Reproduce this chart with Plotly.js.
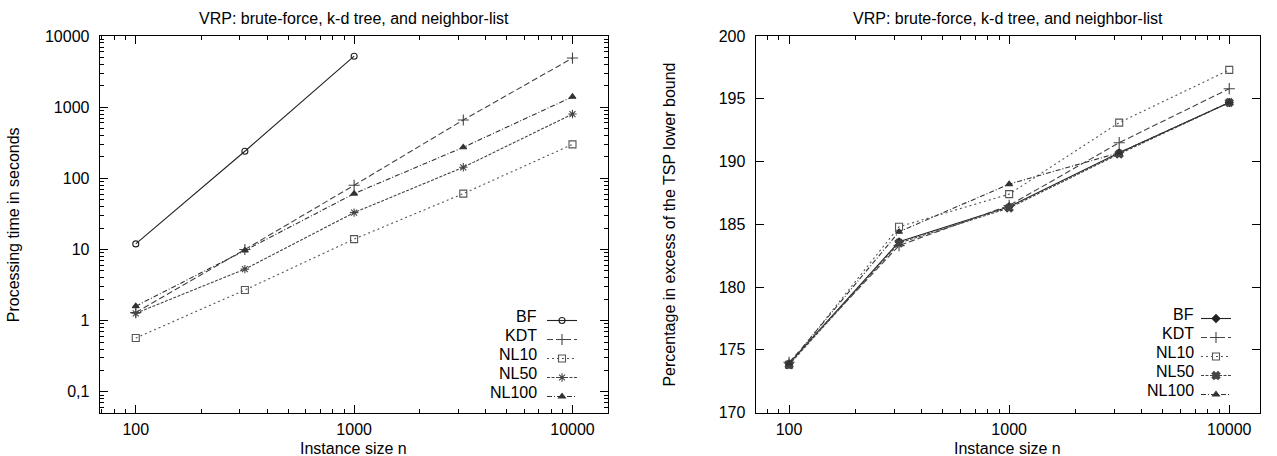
<!DOCTYPE html>
<html>
<head>
<meta charset="utf-8">
<script src="https://cdn.plot.ly/plotly-3.0.1.min.js"></script>
<style>html,body{margin:0;padding:0;background:#fff;}#chart{width:1277px;height:456px;}</style>
</head>
<body>
<div id="chart"></div>
<script>
// ---- data ----
const sizes = [100, 316, 1000, 3162, 10000];
const seriesNames = ['BF', 'KDT', 'NL10', 'NL50', 'NL100'];

// left panel: processing time in seconds
const timeBF    = [12, 240, 5200];
const timeKDT   = [1.3, 10, 80, 660, 4900];
const timeNL10  = [0.57, 2.7, 14, 61, 300];
const timeNL50  = [1.27, 5.3, 33, 143, 800];
const timeNL100 = [1.6, 9.7, 61, 273, 1400];

// right panel: percentage in excess of the TSP lower bound
const excessBF    = [173.9, 183.6, 186.4, 190.7, 194.7];
const excessKDT   = [174.0, 183.3, 186.5, 191.5, 195.8];
const excessNL10  = [173.8, 184.8, 187.4, 193.1, 197.3];
const excessNL50  = [173.8, 183.5, 186.3, 190.6, 194.7];
const excessNL100 = [173.9, 184.4, 188.2, 190.7, 194.7];

// tick labels
const sizeTickVals = [100, 1000, 10000];
const sizeTickText = ['100', '1000', '10000'];
const timeTickVals = [0.1, 1, 10, 100, 1000, 10000];
const timeTickText = ['0,1', '1', '10', '100', '1000', '10000'];
const excessTickVals = [170, 175, 180, 185, 190, 195, 200];
const excessTickText = ['170', '175', '180', '185', '190', '195', '200'];

const titleText = 'VRP: brute-force, k-d tree, and neighbor-list';
const xTitleText = 'Instance size n';
const yTitleLeft = 'Processing time in seconds';
const yTitleRight = 'Percentage in excess of the TSP lower bound';

// ---- helpers ----
const W = 1277, H = 456;
const px = v => v / W;
const py = v => 1 - v / H;
const FONT = 'Liberation Sans, Arial, Helvetica, sans-serif';
const FS = 16;

function minorLog(lo, hi) {
  const out = [];
  for (let e = -3; e <= 5; e++) {
    for (let m = 2; m <= 9; m++) {
      const v = m * Math.pow(10, e);
      if (v > lo && v < hi) out.push(v);
    }
  }
  return out;
}

const styles = {
  BF:    {dash: 'solid',           color: '#222', symL: 'circle-open',     symR: 'diamond',         size: 6},
  KDT:   {dash: '6px,3px',         color: '#444', symL: 'cross-thin-open', symR: 'cross-thin-open', size: 8},
  NL10:  {dash: '2px,3px',         color: '#555', symL: 'square-open',     symR: 'square-open',     size: 7},
  NL50:  {dash: '3px,1.5px',       color: '#444', symL: 'asterisk-open',   symR: 'x',               size: 7},
  NL100: {dash: '5px,2px,1px,2px', color: '#333', symL: 'triangle-up',     symR: 'triangle-up',     size: 6}
};

const leftData = {BF: timeBF, KDT: timeKDT, NL10: timeNL10, NL50: timeNL50, NL100: timeNL100};
const rightData = {BF: excessBF, KDT: excessKDT, NL10: excessNL10, NL50: excessNL50, NL100: excessNL100};

const traces = [];
seriesNames.forEach(name => {
  const s = styles[name];
  const yv = leftData[name];
  traces.push({
    type: 'scatter', mode: 'lines+markers', name: name,
    x: sizes.slice(0, yv.length), y: yv, xaxis: 'x', yaxis: 'y',
    line: {color: s.color, width: 1.1, dash: s.dash},
    marker: {symbol: s.symL, size: s.size, color: s.color, line: {color: s.color, width: 1.1}},
    legend: 'legend'
  });
});
seriesNames.forEach(name => {
  const s = styles[name];
  const yv = rightData[name];
  traces.push({
    type: 'scatter', mode: 'lines+markers', name: name,
    x: sizes.slice(0, yv.length), y: yv, xaxis: 'x2', yaxis: 'y2',
    line: {color: s.color, width: 1.1, dash: s.dash},
    marker: {symbol: s.symR, size: s.size, color: s.color, line: {color: s.color, width: 1.1}},
    legend: 'legend2'
  });
});

const yTop = 36, yBot = 412.5;
const Lx0 = 100.5, Lx1 = 611, Rx0 = 760, Rx1 = 1267;

const axisCommon = {
  showline: true, linecolor: '#000', linewidth: 1.3, mirror: 'ticks',
  ticks: 'inside', ticklen: 8, tickwidth: 1, tickcolor: '#000',
  showgrid: false, zeroline: false,
  tickfont: {family: FONT, size: FS, color: '#000'},
  fixedrange: true
};

const xRangeL = [1.836, 4.161];
const xRangeR = [1.849, 4.140];
const yRangeL = [-1.29, 4];

const layout = {
  width: W, height: H,
  margin: {l: 0, r: 0, t: 0, b: 0},
  paper_bgcolor: '#fff', plot_bgcolor: '#fff',
  font: {family: FONT, size: FS, color: '#000'},
  showlegend: true,
  xaxis: Object.assign({}, axisCommon, {
    type: 'log', range: xRangeL, domain: [px(Lx0), px(Lx1)], anchor: 'y',
    tickmode: 'array', tickvals: sizeTickVals, ticktext: sizeTickText, ticklabelstandoff: 2,
    minor: {tickmode: 'array', tickvals: minorLog(Math.pow(10, xRangeL[0]), Math.pow(10, xRangeL[1])), ticks: 'inside', ticklen: 4, tickcolor: '#000', showgrid: false}
  }),
  yaxis: Object.assign({}, axisCommon, {
    type: 'log', range: yRangeL, domain: [py(yBot), py(yTop)], anchor: 'x',
    tickmode: 'array', tickvals: timeTickVals, ticktext: timeTickText, ticklabelstandoff: 6,
    minor: {tickmode: 'array', tickvals: minorLog(Math.pow(10, yRangeL[0]), Math.pow(10, yRangeL[1])), ticks: 'inside', ticklen: 4, tickcolor: '#000', showgrid: false}
  }),
  xaxis2: Object.assign({}, axisCommon, {
    type: 'log', range: xRangeR, domain: [px(Rx0), px(Rx1)], anchor: 'y2',
    tickmode: 'array', tickvals: sizeTickVals, ticktext: sizeTickText, ticklabelstandoff: 2,
    minor: {tickmode: 'array', tickvals: minorLog(Math.pow(10, xRangeR[0]), Math.pow(10, xRangeR[1])), ticks: 'inside', ticklen: 4, tickcolor: '#000', showgrid: false}
  }),
  yaxis2: Object.assign({}, axisCommon, {
    type: 'linear', range: [170, 200], domain: [py(yBot), py(yTop)], anchor: 'x2',
    tickmode: 'array', tickvals: excessTickVals, ticktext: excessTickText, ticklabelstandoff: 6
  }),
  legend: {
    x: px(545), y: py(306), xanchor: 'left', yanchor: 'top',
    bgcolor: 'rgba(0,0,0,0)', borderwidth: 0, itemwidth: 30,
    font: {family: FONT, size: 12, color: 'rgba(0,0,0,0)'},
    itemclick: false, itemdoubleclick: false
  },
  legend2: {
    x: px(1203), y: py(304), xanchor: 'left', yanchor: 'top',
    bgcolor: 'rgba(0,0,0,0)', borderwidth: 0, itemwidth: 30,
    font: {family: FONT, size: 12, color: 'rgba(0,0,0,0)'},
    itemclick: false, itemdoubleclick: false
  },
  annotations: []
};

const ann = layout.annotations;
function addText(text, x, y, opts) {
  ann.push(Object.assign({
    text: text, xref: 'paper', yref: 'paper', x: px(x), y: py(y),
    showarrow: false, xanchor: 'center', yanchor: 'middle',
    font: {family: FONT, size: FS, color: '#000'}
  }, opts || {}));
}
// titles
addText(titleText, (Lx0 + Lx1) / 2, 19);
addText(titleText, (Rx0 + Rx1) / 2, 19);
addText(xTitleText, (Lx0 + Lx1) / 2, 448);
addText(xTitleText, (Rx0 + Rx1) / 2, 448);
addText(yTitleLeft, 13, (yTop + yBot) / 2, {textangle: -90});
addText(yTitleRight, 673, (yTop + yBot) / 2, {textangle: -90});
// legend labels (right-aligned to the left of each sample)
const legRowL = [316.5, 335.5, 354.5, 373.5, 392.5];
const legRowR = [314.5, 333.5, 352.5, 371.5, 390.5];
seriesNames.forEach((n, i) => {
  addText(n, 542, legRowL[i], {xanchor: 'right'});
  addText(n, 1203, legRowR[i], {xanchor: 'right'});
});

Plotly.newPlot('chart', traces, layout, {displayModeBar: false, staticPlot: true});
</script>
</body>
</html>
